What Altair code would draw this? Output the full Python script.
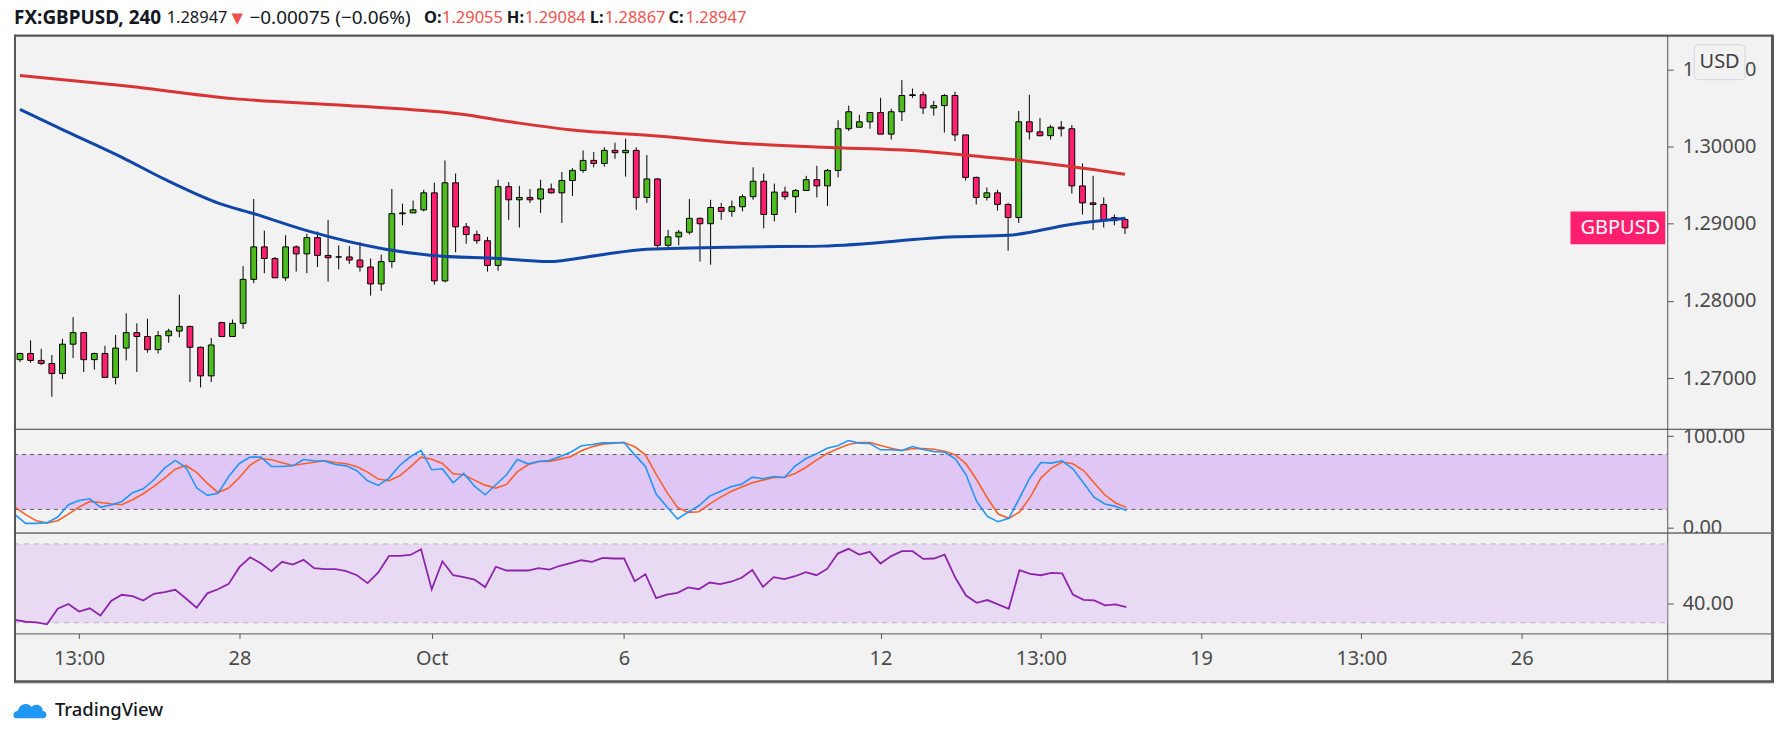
import altair as alt
import pandas as pd

# ---------------- data ----------------
symbol = "GBPUSD"
header_symbol = "FX:GBPUSD, 240"
header_last = "1.28947"
header_change = "\u22120.00075 (\u22120.06%)"

opens = [1.2724, 1.2732, 1.2723, 1.2719, 1.2706, 1.2744, 1.2759, 1.2724, 1.2732, 1.2701,
         1.2739, 1.2759, 1.2754, 1.2737, 1.2755, 1.2761, 1.2767, 1.2740, 1.2703, 1.2772,
         1.2754, 1.2771, 1.2828, 1.2870, 1.2855, 1.2830, 1.2870, 1.2861, 1.2882, 1.2859,
         1.2857, 1.2857, 1.2853, 1.2844, 1.2822, 1.2851, 1.2913, 1.2914, 1.2918, 1.2940,
         1.2826, 1.2953, 1.2896, 1.2886, 1.2878, 1.2846, 1.2948, 1.2931, 1.2934, 1.2932,
         1.2945, 1.2940, 1.2956, 1.2969, 1.2982, 1.2978, 1.2995, 1.2992, 1.2995, 1.2934,
         1.2958, 1.2872, 1.2883, 1.2889, 1.2907, 1.2900, 1.2921, 1.2916, 1.2922, 1.2935,
         1.2955, 1.2912, 1.2941, 1.2935, 1.2943, 1.2957, 1.2949, 1.2969, 1.3023, 1.3025,
         1.3032, 1.3044, 1.3016, 1.3045, 1.3066, 1.3067, 1.3050, 1.3053, 1.3066, 1.3015,
         1.2960, 1.2934, 1.2940, 1.2925, 1.2908, 1.3032, 1.3019, 1.3014, 1.3025, 1.3023,
         1.2949, 1.2927, 1.2925, 1.2904, 1.29055]
highs = [1.2733, 1.2749, 1.2738, 1.2730, 1.2751, 1.2779, 1.2760, 1.2733, 1.2742, 1.2756,
         1.2784, 1.2771, 1.2777, 1.2761, 1.2764, 1.2808, 1.2768, 1.2741, 1.2752, 1.2773,
         1.2776, 1.2845, 1.2932, 1.2891, 1.2857, 1.2885, 1.2872, 1.2887, 1.2890, 1.2905,
         1.2872, 1.2871, 1.2876, 1.2855, 1.2860, 1.2945, 1.2926, 1.2930, 1.2944, 1.2953,
         1.2982, 1.2965, 1.2901, 1.2891, 1.2883, 1.2957, 1.2954, 1.2949, 1.2945, 1.2957,
         1.2952, 1.2967, 1.2972, 1.2995, 1.2993, 1.2999, 1.3005, 1.3010, 1.2999, 1.2989,
         1.2959, 1.2892, 1.2892, 1.2932, 1.2908, 1.2931, 1.2927, 1.2930, 1.2938, 1.2973,
         1.2965, 1.2952, 1.2948, 1.2945, 1.2962, 1.2975, 1.2971, 1.3034, 1.3053, 1.3041,
         1.3044, 1.3063, 1.3049, 1.3086, 1.3075, 1.3071, 1.3059, 1.3068, 1.3071, 1.3015,
         1.2961, 1.2947, 1.2944, 1.2927, 1.3046, 1.3067, 1.3037, 1.3028, 1.3033, 1.3028,
         1.2978, 1.2962, 1.2934, 1.2912, 1.29084]
lows = [1.2721, 1.2720, 1.2717, 1.2676, 1.2699, 1.2726, 1.2708, 1.2711, 1.2701, 1.2692,
        1.2723, 1.2708, 1.2733, 1.2732, 1.2746, 1.2753, 1.2695, 1.2688, 1.2695, 1.2753,
        1.2754, 1.2764, 1.2823, 1.2836, 1.2830, 1.2826, 1.2838, 1.2836, 1.2844, 1.2825,
        1.2841, 1.2848, 1.2838, 1.2807, 1.2813, 1.2843, 1.2898, 1.2914, 1.2916, 1.2821,
        1.2824, 1.2863, 1.2874, 1.2874, 1.2838, 1.2839, 1.2905, 1.2895, 1.2927, 1.2914,
        1.2939, 1.2901, 1.2936, 1.2966, 1.2973, 1.2974, 1.2984, 1.2961, 1.2918, 1.2927,
        1.2869, 1.2868, 1.2872, 1.2886, 1.2851, 1.2847, 1.2905, 1.2909, 1.2916, 1.2931,
        1.2894, 1.2903, 1.2931, 1.2914, 1.2943, 1.2934, 1.2923, 1.2960, 1.3020, 1.3025,
        1.3023, 1.3016, 1.3009, 1.3033, 1.3063, 1.3042, 1.3040, 1.3018, 1.3007, 1.2956,
        1.2925, 1.2930, 1.2917, 1.2865, 1.2901, 1.3009, 1.3013, 1.3009, 1.3013, 1.2939,
        1.2912, 1.2892, 1.2895, 1.2898, 1.28867]
closes = [1.2732, 1.2723, 1.2719, 1.2706, 1.2744, 1.2759, 1.2724, 1.2732, 1.2701, 1.2739,
          1.2759, 1.2754, 1.2737, 1.2755, 1.2761, 1.2767, 1.2740, 1.2703, 1.2743, 1.2754,
          1.2771, 1.2828, 1.2870, 1.2855, 1.2830, 1.2870, 1.2861, 1.2882, 1.2859, 1.2856,
          1.2857, 1.2853, 1.2844, 1.2822, 1.2851, 1.2913, 1.2914, 1.2918, 1.2940, 1.2826,
          1.2953, 1.2896, 1.2886, 1.2878, 1.2846, 1.2948, 1.2931, 1.2934, 1.2931, 1.2945,
          1.2940, 1.2956, 1.2969, 1.2982, 1.2978, 1.2995, 1.2992, 1.2995, 1.2934, 1.2958,
          1.2872, 1.2883, 1.2889, 1.2907, 1.2900, 1.2921, 1.2916, 1.2922, 1.2935, 1.2955,
          1.2912, 1.2941, 1.2935, 1.2943, 1.2957, 1.2949, 1.2969, 1.3023, 1.3045, 1.3032,
          1.3044, 1.3016, 1.3045, 1.3066, 1.3067, 1.3050, 1.3053, 1.3066, 1.3015, 1.2960,
          1.2934, 1.2940, 1.2925, 1.2908, 1.3032, 1.3019, 1.3014, 1.3025, 1.3023, 1.2949,
          1.2927, 1.2925, 1.2904, 1.2908, 1.28947]

stoch_k = [14.2, 4.7, 4.7, 5.5, 11.6, 25.1, 29.8, 31.6, 22.5, 24.7,
           28.7, 38.2, 42.5, 52.4, 65.1, 73.5, 65.8, 43.6, 35.3, 37.5,
           56.0, 70.2, 77.1, 77.1, 66.9, 66.9, 67.6, 74.5, 73.1, 72.7,
           69.1, 67.6, 62.2, 51.3, 46.2, 54.2, 68.0, 77.5, 84.4, 63.3,
           64.4, 49.1, 59.3, 45.5, 36.0, 46.9, 57.8, 74.5, 69.8, 72.4,
           73.5, 77.8, 82.5, 89.5, 90.9, 92.7, 92.7, 93.1, 79.6, 66.9,
           36.7, 22.9, 9.5, 17.1, 24.0, 34.5, 39.6, 44.7, 47.6, 55.3,
           53.5, 56.0, 54.9, 67.3, 75.3, 80.7, 86.9, 89.5, 95.3, 92.4,
           92.0, 85.1, 85.1, 84.4, 88.7, 85.5, 83.3, 82.5, 75.3, 57.8,
           28.7, 12.4, 6.5, 10.2, 32.4, 54.9, 71.3, 70.6, 73.1, 64.4,
           48.8, 33.1, 25.9, 23.3, 18.9]
stoch_d = [22.5, 14.2, 7.6, 5.1, 7.6, 14.9, 22.5, 28.7, 27.6, 26.2,
           25.1, 30.5, 37.1, 45.1, 54.2, 64.0, 68.0, 60.4, 48.4, 38.5,
           43.3, 54.9, 68.4, 75.6, 74.2, 70.9, 68.0, 69.8, 71.6, 73.1,
           71.3, 69.8, 66.5, 60.7, 53.1, 51.3, 56.7, 66.5, 77.1, 74.9,
           70.2, 58.9, 57.8, 52.0, 46.5, 43.3, 47.3, 61.0, 68.7, 72.4,
           72.4, 74.9, 77.5, 84.0, 88.4, 91.3, 92.4, 93.1, 88.4, 79.6,
           58.5, 38.9, 22.2, 16.7, 17.5, 25.8, 33.1, 39.6, 44.4, 49.1,
           52.0, 54.9, 54.9, 59.3, 65.8, 73.8, 81.1, 86.2, 90.9, 93.1,
           93.1, 89.8, 86.9, 84.4, 86.2, 86.5, 85.8, 83.6, 79.6, 69.8,
           52.4, 32.4, 14.9, 10.2, 17.1, 33.1, 54.2, 65.2, 71.7, 69.9,
           62.5, 48.8, 35.7, 27.0, 22.2]
rsi = [31.4, 30.5, 30.2, 29.2, 37.1, 39.5, 35.7, 37.3, 33.7, 41.0,
       44.2, 43.5, 41.3, 44.7, 45.5, 46.7, 42.3, 37.6, 44.9, 47.0,
       49.7, 58.2, 63.2, 60.2, 56.2, 60.9, 59.5, 61.9, 57.7, 57.2,
       57.2, 56.2, 54.1, 50.1, 55.5, 63.9, 63.9, 64.4, 67.3, 46.9,
       61.2, 54.1, 53.1, 51.9, 48.1, 58.4, 56.5, 56.5, 56.5, 57.7,
       57.0, 58.9, 60.2, 61.7, 60.9, 62.9, 62.6, 62.7, 51.1, 54.6,
       42.5, 44.3, 45.2, 47.9, 47.0, 50.4, 49.6, 50.8, 52.8, 56.7,
       48.2, 53.1, 52.1, 53.6, 55.7, 54.1, 57.3, 65.1, 67.5, 64.6,
       66.0, 60.0, 63.8, 66.3, 66.3, 62.4, 62.6, 64.6, 52.8, 43.8,
       40.1, 41.5, 39.3, 37.1, 56.7, 54.8, 54.1, 55.3, 55.0, 44.3,
       41.6, 41.3, 38.8, 39.3, 37.9]

ma_slow_idx = [0, 9.6, 20.1, 30.8, 41.4, 46.6, 52.2, 59.6, 68.1, 75.5, 84.9, 89.6, 94.2, 98.9, 104]
ma_slow = [1.3092, 1.3079, 1.3062, 1.3053, 1.3042, 1.3031, 1.3021, 1.3014, 1.3004, 1.2999,
           1.2994, 1.2988, 1.2982, 1.2974, 1.2964]
ma_fast_idx = [0, 4.3, 9.6, 13.7, 18.8, 22, 27, 34.4, 38.8, 45, 49.7, 54.3, 59, 68.1, 75.5, 88, 93, 98.9, 104]
ma_fast = [1.3048, 1.3020, 1.2986, 1.2957, 1.2926, 1.2913, 1.2891, 1.2867, 1.2859, 1.2855,
           1.2851, 1.2859, 1.2867, 1.2870, 1.2871, 1.2883, 1.2885, 1.2899, 1.2907]

price_ticks = [1.27, 1.28, 1.29, 1.30, 1.31]
stoch_ticks = [0, 100]
rsi_ticks = [40]
stoch_levels = [80, 20]
rsi_levels = [70, 30]
time_tick_idx = [6, 21, 39, 57, 81, 96, 111, 126, 141]
time_tick_labels = ["13:00", "28", "Oct", "6", "12", "13:00", "19", "13:00", "26"]

# ---------------- styling / layout ----------------
FONT = "Noto Sans"
AX = "#555555"
LBL = "#4a4a4a"
DARK = "#131722"
VALRED = "#ef5350"
BG = "#f2f2f2"
GREEN = "#4cbc1e"
PINK = "#ff1f6f"
RED_MA = "#d83434"
BLUE_MA = "#1046a8"
K_COL = "#2196f3"
D_COL = "#f7602a"
RSI_COL = "#8e24aa"
STOCH_FILL = "#e0c6f4"
RSI_FILL = "#e8daf3"

W = 1763
H_HEAD, H_PRICE, H_STOCH, H_RSI, H_FOOT = 26, 395, 104, 150, 50
AXIS_X = 1657
X_DOM = [-0.093, 164.52]
xsc = alt.Scale(domain=X_DOM, nice=False, zero=False)
yp = alt.Scale(domain=[1.263437, 1.31447], nice=False, zero=False)
ys = alt.Scale(domain=[-5.4, 108.0], nice=False, zero=False)
yr = alt.Scale(domain=[-0.23, 75.72], nice=False, zero=False)

n = len(opens)
df = pd.DataFrame({"i": list(range(n)), "open": opens, "high": highs, "low": lows, "close": closes,
                   "k": stoch_k, "d": stoch_d, "rsi": rsi})
df["dir"] = ["up" if c >= o else "down" for o, c in zip(opens, closes)]
one = pd.DataFrame({"z": [0]})
panel_view = alt.ViewBackground(fill=BG, stroke=AX, strokeWidth=1)
blank_view = alt.ViewBackground(fill=None, stroke=None)


def yaxis(values, fmt):
    return alt.Axis(orient="right", offset=-(W - AXIS_X), values=values, format=fmt, grid=False,
                    title=None, labelFont=FONT, labelFontSize=20, labelColor=LBL, labelPadding=9,
                    tickColor=AX, tickSize=6, tickWidth=1, domainColor=AX, domainWidth=1,
                    labelFlush=False, labelOverlap=False)


def frame(h, top=False, bottom=False):
    rules = [
        alt.Chart(one).mark_rule(color=AX, strokeWidth=2).encode(x=alt.value(1), y=alt.value(0), y2=alt.value(h)),
        alt.Chart(one).mark_rule(color=AX, strokeWidth=2).encode(x=alt.value(W - 1), y=alt.value(0), y2=alt.value(h)),
    ]
    if top:
        rules.append(alt.Chart(one).mark_rule(color=AX, strokeWidth=2).encode(
            x=alt.value(0), x2=alt.value(W), y=alt.value(1)))
    if bottom:
        rules.append(alt.Chart(one).mark_rule(color=AX, strokeWidth=2).encode(
            x=alt.value(0), x2=alt.value(W), y=alt.value(h - 1)))
    return rules


# ---------------- header ----------------
hdr_pieces = [
    (header_symbol, 0, "bold", DARK, FONT, 19),
    (header_last, 153, "normal", DARK, FONT, 16.5),
    ("\u25bc", 218, "normal", VALRED, "DejaVu Sans", 15),
    (header_change, 236, "normal", DARK, FONT, 19),
    ("O:", 411, "bold", DARK, FONT, 16.5),
    (f"{opens[-1]:.5f}", 429, "normal", VALRED, FONT, 16.5),
    ("H:", 494, "bold", DARK, FONT, 16.5),
    (f"{highs[-1]:.5f}", 512, "normal", VALRED, FONT, 16.5),
    ("L:", 577, "bold", DARK, FONT, 16.5),
    (f"{lows[-1]:.5f}", 592, "normal", VALRED, FONT, 16.5),
    ("C:", 656, "bold", DARK, FONT, 16.5),
    (f"{closes[-1]:.5f}", 673, "normal", VALRED, FONT, 16.5),
]
hdr_layers = [
    alt.Chart(one).mark_text(text=t, align="left", baseline="middle", fontSize=s, fontWeight=w,
                             color=c, font=f).encode(x=alt.value(x), y=alt.value(9.5))
    for (t, x, w, c, f, s) in hdr_pieces
]
header = alt.layer(*hdr_layers).properties(width=W, height=H_HEAD, view=blank_view)

# ---------------- price panel ----------------
pax = yaxis(price_ticks, ".5f")
base = alt.Chart(df).encode(x=alt.X("i:Q", scale=xsc, axis=None))
wicks = base.mark_rule(color="#000000", strokeWidth=1).encode(
    y=alt.Y("low:Q", scale=yp, axis=pax), y2="high:Q")
bodies = base.mark_bar(width=5.8, stroke="#000000", strokeWidth=1).encode(
    y=alt.Y("open:Q", scale=yp, axis=pax), y2="close:Q",
    fill=alt.Fill("dir:N", scale=alt.Scale(domain=["up", "down"], range=[GREEN, PINK]), legend=None))
slow_line = alt.Chart(pd.DataFrame({"i": ma_slow_idx, "v": ma_slow})).mark_line(
    color=RED_MA, strokeWidth=3, interpolate="monotone").encode(
    x=alt.X("i:Q", scale=xsc, axis=None), y=alt.Y("v:Q", scale=yp, axis=pax))
fast_line = alt.Chart(pd.DataFrame({"i": ma_fast_idx, "v": ma_fast})).mark_line(
    color=BLUE_MA, strokeWidth=3, interpolate="monotone").encode(
    x=alt.X("i:Q", scale=xsc, axis=None), y=alt.Y("v:Q", scale=yp, axis=pax))
last = df.tail(1)
last_box = alt.Chart(last).mark_point(
    shape="M-1,-0.347L1,-0.347L1,0.347L-1,0.347Z", size=9025, filled=True, fill=PINK,
    opacity=1, strokeWidth=0).encode(x=alt.value(1607.5), y=alt.Y("close:Q", scale=yp, axis=pax))
last_txt = alt.Chart(last).mark_text(text=symbol, color="white", fontSize=20, font=FONT,
                                     align="center", baseline="middle").encode(
    x=alt.value(1610), y=alt.Y("close:Q", scale=yp, axis=pax))
usd_box = alt.Chart(one).mark_rect(fill=BG, stroke="#d4d4dc", strokeWidth=1, cornerRadius=4).encode(
    x=alt.value(1684), x2=alt.value(1735), y=alt.value(10), y2=alt.value(45))
usd_txt = alt.Chart(one).mark_text(text="USD", fontSize=20, font=FONT, color="#3e3e3e",
                                   align="center", baseline="middle").encode(
    x=alt.value(1709.5), y=alt.value(27.5))
price = alt.layer(wicks, bodies, slow_line, fast_line, last_box, last_txt, usd_box, usd_txt,
                  *frame(H_PRICE, top=True)).properties(width=W, height=H_PRICE, view=panel_view)

# ---------------- stochastic panel ----------------
sax = yaxis(stoch_ticks, ".2f")
s_band = alt.Chart(pd.DataFrame({"hi": [stoch_levels[0]], "lo": [stoch_levels[1]]})).mark_rect(
    fill=STOCH_FILL).encode(x=alt.value(0), x2=alt.value(AXIS_X),
                            y=alt.Y("hi:Q", scale=ys, axis=sax), y2="lo:Q")
s_lines = alt.Chart(pd.DataFrame({"lv": stoch_levels})).mark_rule(
    color="#5a5a5a", strokeWidth=1, strokeDash=[4, 4]).encode(
    x=alt.value(0), x2=alt.value(AXIS_X), y=alt.Y("lv:Q", scale=ys, axis=sax))
k_line = alt.Chart(df).mark_line(color=K_COL, strokeWidth=1.6).encode(
    x=alt.X("i:Q", scale=xsc, axis=None), y=alt.Y("k:Q", scale=ys, axis=sax))
d_line = alt.Chart(df).mark_line(color=D_COL, strokeWidth=1.6).encode(
    x=alt.X("i:Q", scale=xsc, axis=None), y=alt.Y("d:Q", scale=ys, axis=sax))
stoch = alt.layer(s_band, s_lines, d_line, k_line, *frame(H_STOCH)).properties(
    width=W, height=H_STOCH, view=panel_view)

# ---------------- RSI panel + time axis ----------------
rax = yaxis(rsi_ticks, ".2f")
expr = "''"
for v, lab in reversed(list(zip(time_tick_idx, time_tick_labels))):
    expr = f"datum.value == {v} ? '{lab}' : ({expr})"
xax = alt.Axis(orient="bottom", offset=-49, values=time_tick_idx, labelExpr=expr, grid=False,
               title=None, labelFont=FONT, labelFontSize=20, labelColor=LBL, tickColor=AX,
               tickSize=5, tickWidth=1, domainColor=AX, domainWidth=1, labelPadding=10,
               labelFlush=False, labelOverlap=False)
r_band = alt.Chart(pd.DataFrame({"hi": [rsi_levels[0]], "lo": [rsi_levels[1]]})).mark_rect(
    fill=RSI_FILL).encode(x=alt.value(0), x2=alt.value(AXIS_X),
                          y=alt.Y("hi:Q", scale=yr, axis=rax), y2="lo:Q")
r_lines = alt.Chart(pd.DataFrame({"lv": rsi_levels})).mark_rule(
    color="#b9b2c2", strokeWidth=1, strokeDash=[5, 5]).encode(
    x=alt.value(0), x2=alt.value(AXIS_X), y=alt.Y("lv:Q", scale=yr, axis=rax))
r_line = alt.Chart(df).mark_line(color=RSI_COL, strokeWidth=1.8).encode(
    x=alt.X("i:Q", scale=xsc, axis=xax), y=alt.Y("rsi:Q", scale=yr, axis=rax))
rsi_panel = alt.layer(r_band, r_lines, r_line, *frame(H_RSI, bottom=True)).properties(
    width=W, height=H_RSI, view=panel_view)

# ---------------- footer ----------------
logo = alt.Chart(one).mark_point(
    shape="M-0.9,0.5C-1.1,0.5,-1.1,0.05,-0.75,0.05C-0.7,-0.4,-0.1,-0.55,0.1,-0.2"
          "C0.3,-0.45,0.8,-0.35,0.8,0.05C1.1,0.05,1.1,0.5,0.85,0.5Z",
    size=1024, filled=True, fill="#2196f3", opacity=1, strokeWidth=0).encode(
    x=alt.value(16), y=alt.value(28))
brand = alt.Chart(one).mark_text(text="TradingView", fontSize=18.5, font=FONT, color=DARK,
                                 fontWeight=500, align="left", baseline="middle").encode(
    x=alt.value(41), y=alt.value(28))
footer = alt.layer(logo, brand).properties(width=W, height=H_FOOT, view=blank_view)

chart = alt.vconcat(header, price, stoch, rsi_panel, footer, spacing=0, bounds="flush").properties(
    padding={"left": 2, "top": 0, "right": 0, "bottom": 0}
).configure(background="white", font=FONT).configure_view(stroke=None)

chart.save("out.html", embed_options={"renderer": "svg", "actions": False})
